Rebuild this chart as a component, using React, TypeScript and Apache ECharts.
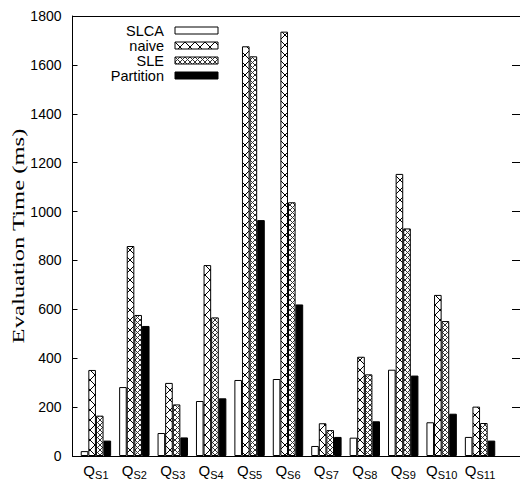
import React, { useEffect, useRef } from "react";
import * as echarts from "echarts";

// Query identifiers (drawn as Q with a subscript)
const queries = ["S1", "S2", "S3", "S4", "S5", "S6", "S7", "S8", "S9", "S10", "S11"];
const seriesNames = ["SLCA", "naive", "SLE", "Partition"];

// Evaluation time per query, in ms
const slca = [20, 282, 94, 225, 311, 315, 41, 75, 353, 138, 78];
const naive = [352, 859, 299, 781, 1676, 1736, 134, 406, 1154, 659, 202];
const sle = [165, 577, 211, 567, 1635, 1038, 106, 334, 931, 552, 135];
const partition = [63, 532, 76, 236, 965, 620, 78, 142, 329, 173, 63];

// Y axis range
const yMin = 0;
const yMax = 1800;
const yStep = 200;

const SANS = '"Liberation Sans", Arial, Helvetica, sans-serif';
const SERIF = '"Liberation Serif", "Times New Roman", serif';

// Pixel cross-hatch tile: white background with two diagonals
function crossTile(size: number, ink: string): HTMLCanvasElement {
  const c = document.createElement("canvas");
  c.width = size;
  c.height = size;
  const ctx = c.getContext("2d")!;
  ctx.fillStyle = "#fff";
  ctx.fillRect(0, 0, size, size);
  ctx.fillStyle = ink;
  for (let i = 0; i < size; i++) {
    ctx.fillRect(i, i, 1, 1);
    ctx.fillRect(size - 1 - i, i, 1, 1);
  }
  return c;
}

export default function App() {
  const ref = useRef<HTMLDivElement>(null);

  useEffect(() => {
    if (!ref.current) return;
    const chart = echarts.init(ref.current, undefined, { renderer: "svg" });

    const sparseHatch = { image: crossTile(10, "#000"), repeat: "repeat" };
    const denseHatch = { image: crossTile(5, "#333"), repeat: "repeat" };

    const fills: any[] = ["#ffffff", sparseHatch, denseHatch, "#000000"];
    const values = [slca, naive, sle, partition];

    const series = seriesNames.map((name, k) => ({
      type: "bar",
      name,
      xAxisIndex: 0,
      yAxisIndex: 0,
      data: values[k].map((v, i) => [i, v]),
      barWidth: 7.6,
      barGap: "0%",
      itemStyle: { color: fills[k], borderColor: "#000", borderWidth: 1 },
    }));

    const xRange = { type: "value", min: -0.61, max: 11.04, splitLine: { show: false } };
    const frameLine = { show: true, onZero: false, lineStyle: { color: "#000", width: 1 } };

    const tickY = {
      type: "value",
      min: yMin,
      max: yMax,
      interval: yStep,
      splitLine: { show: false },
    };

    chart.setOption({
      animation: false,
      backgroundColor: "#fff",
      grid: {
        left: 72.5,
        top: 16,
        width: 449.5,
        height: 440,
        show: false,
      },
      legend: {
        orient: "vertical",
        align: "right",
        right: 301.5,
        top: 23,
        padding: 0,
        itemGap: 0,
        itemWidth: 43,
        itemHeight: 7,
        icon: "rect",
        itemStyle: { borderColor: "#000", borderWidth: 1 },
        textStyle: {
          fontFamily: SANS,
          fontSize: 14.5,
          lineHeight: 15,
          color: "#000",
          padding: [0, 6, 0, 0],
        },
        data: seriesNames,
      },
      xAxis: [
        {
          ...xRange,
          position: "bottom",
          axisLine: frameLine,
          axisTick: { show: false },
          axisLabel: {
            customValues: queries.map((_, i) => i),
            margin: 7,
            formatter: (v: number) => `{q|Q}{s|${queries[Math.round(v)]}}`,
            rich: {
              q: { fontFamily: SANS, fontSize: 15, lineHeight: 15, verticalAlign: "top", color: "#000" },
              s: {
                fontFamily: SANS,
                fontSize: 11,
                lineHeight: 11,
                padding: [6, 0, 0, 0],
                verticalAlign: "top",
                color: "#000",
              },
            },
          },
        },
        {
          ...xRange,
          position: "top",
          axisLine: frameLine,
          axisTick: { show: false },
          axisLabel: { show: false },
        },
      ],
      yAxis: [
        {
          ...tickY,
          position: "left",
          axisLine: frameLine,
          axisTick: { show: true, inside: true, length: 5, lineStyle: { color: "#000" } },
          axisLabel: {
            fontFamily: SANS,
            fontSize: 14,
            color: "#000",
            margin: 11,
            formatter: (v: number) => String(v),
          },
        },
        {
          ...tickY,
          position: "right",
          axisLine: { show: false, onZero: false },
          axisTick: { show: true, inside: true, length: 8, lineStyle: { color: "#000" } },
          axisLabel: { show: false },
        },
      ],
      graphic: [
        {
          type: "text",
          x: 18,
          y: 236,
          rotation: Math.PI / 2,
          scaleX: 1.45,
          style: {
            text: "Evaluation Time (ms)",
            font: `17px ${SERIF}`,
            fill: "#000",
            textAlign: "center",
            textVerticalAlign: "middle",
          },
        },
      ],
      series,
    });

    return () => chart.dispose();
  }, []);

  return (
    <div
      ref={ref}
      style={{ position: "fixed", left: 0, top: 0, width: 520, height: 484, background: "#fff" }}
    />
  );
}
